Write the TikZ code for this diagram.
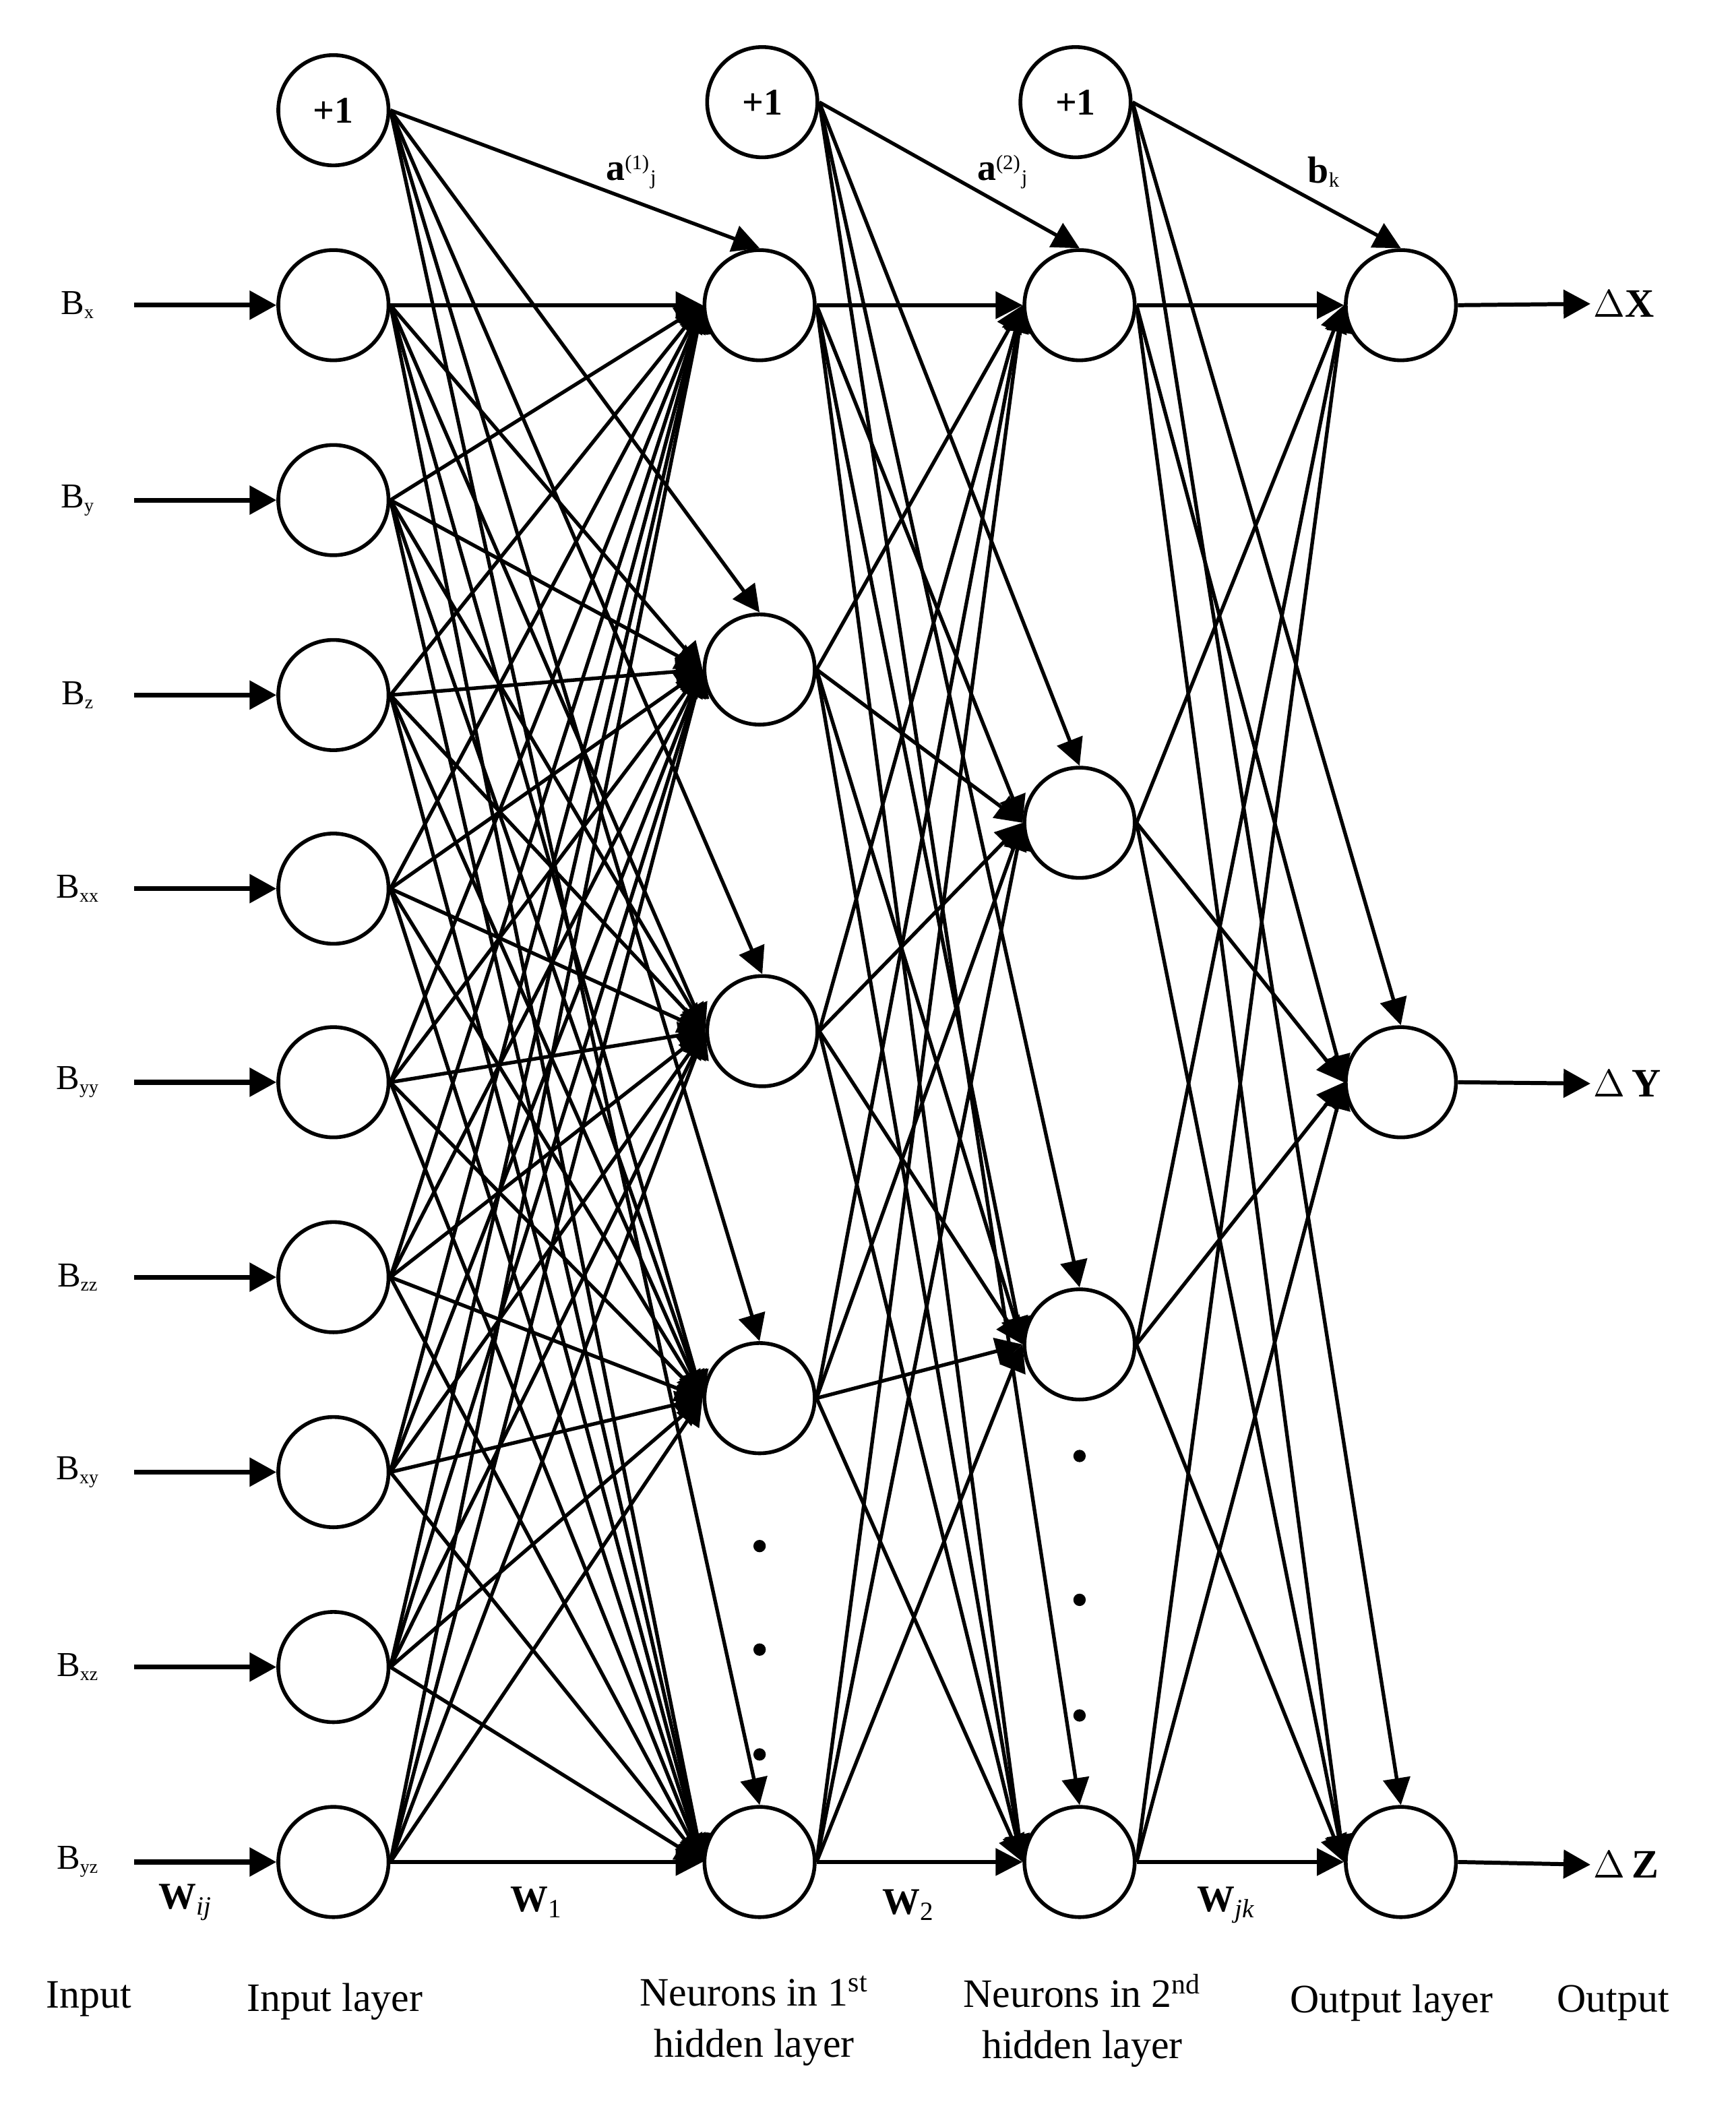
\documentclass[tikz,border=0pt]{standalone}
\usepackage{fontspec}
\setmainfont{Liberation Serif}
\usetikzlibrary{arrows.meta}
\begin{document}
\begin{tikzpicture}[x=0.5pt,y=-0.5pt,
  neuron/.style={circle,draw,line width=1.4pt,minimum size=41pt,inner sep=0pt,
    font=\fontsize{14}{16}\selectfont\bfseries},
  conn/.style={line width=1.35pt,-{Triangle[length=10pt,width=10pt]}},
  inarrow/.style={line width=1.8pt,-{Triangle[length=10pt,width=10.5pt]}},
  blabel/.style={font=\fontsize{13}{15}\selectfont,inner sep=0pt},
  wlabel/.style={font=\fontsize{14}{16}\selectfont,inner sep=0pt},
  olabel/.style={font=\fontsize{15}{17}\selectfont\bfseries,inner sep=0pt,anchor=west},
  captxt/.style={font=\fontsize{15}{19}\selectfont,inner sep=0pt,align=center},
  dotmark/.style={circle,fill,inner sep=0pt,minimum size=4.6pt}
]
\useasboundingbox (0,0) rectangle (1291,1568);

% input layer
\foreach \y [count=\i] in {227,372,517,661,805,950,1095,1240,1385}
  \node[neuron] (in\i) at (248,\y) {};
% hidden layer 1
\foreach \x/\y [count=\j] in {565/227,565/498,567/767,565/1040,565/1385}
  \node[neuron] (ha\j) at (\x,\y) {};
% hidden layer 2
\foreach \y [count=\j] in {227,612,1000,1385}
  \node[neuron] (hb\j) at (803,\y) {};
% output layer
\foreach \y [count=\j] in {227,805,1385}
  \node[neuron] (out\j) at (1042,\y) {};
% bias
\node[neuron] (ba) at (248,82) {+1};
\node[neuron] (bb) at (567,76) {+1};
\node[neuron] (bc) at (800,76) {+1};

% inputs
\foreach \y/\s [count=\i] in {227/x,372/y,517/z,661/xx,805/yy,950/zz,1095/xy,1240/xz,1385/yz}{
  \node[blabel] (lb\i) at (58,\y) {B{\fontsize{10}{10}\selectfont\textsubscript{\s}}};
  \coordinate (st\i) at (100,\y);
  \draw[inarrow] (st\i) -- (in\i.west);
}

% connections
\foreach \i in {1,...,9}
  \foreach \j in {1,...,5}
    \draw[conn] (in\i.east) -- (ha\j.west);
\foreach \j in {1,...,5}
  \draw[conn] (ba.east) -- (ha\j.north);
\foreach \i in {1,...,5}
  \foreach \j in {1,...,4}
    \draw[conn] (ha\i.east) -- (hb\j.west);
\foreach \j in {1,...,4}
  \draw[conn] (bb.east) -- (hb\j.north);
\foreach \i in {1,...,4}
  \foreach \j in {1,...,3}
    \draw[conn] (hb\i.east) -- (out\j.west);
\foreach \j in {1,...,3}
  \draw[conn] (bc.east) -- (out\j.north);

% outputs
\foreach \y/\s [count=\k] in {226/X,806/\,Y,1387/\,Z}{
  \coordinate (en\k) at (1183,\y);
  \draw[inarrow,line width=1.5pt] (out\k.east) -- (en\k);
  \node[olabel] (ol\k) at (1185,\y) {$\Delta$\s};
}

% dots
\foreach \y [count=\k] in {1150,1227,1305}
  \node[dotmark] (da\k) at (565,\y) {};
\foreach \y [count=\k] in {1083,1190,1276}
  \node[dotmark] (db\k) at (803,\y) {};

% bias labels
\node[wlabel] (la1) at (470,128) {\textbf{a}{\fontsize{11}{11}\selectfont\textsuperscript{(1)}\textsubscript{j}}};
\node[wlabel] (la2) at (746,128) {\textbf{a}{\fontsize{11}{11}\selectfont\textsuperscript{(2)}\textsubscript{j}}};
\node[wlabel] (lbk) at (985,128) {\textbf{b}{\fontsize{11}{11}\selectfont\textsubscript{k}}};

% weight labels
\node[wlabel] (w0) at (138,1415) {\textbf{W}\textsubscript{\itshape ij}};
\node[wlabel] (w1) at (399,1415) {\textbf{W}\textsubscript{1}};
\node[wlabel] (w2) at (676,1417) {\textbf{W}\textsubscript{2}};
\node[wlabel] (w3) at (912,1417) {\textbf{W}\textsubscript{\itshape jk}};

% captions
\node[captxt] (c1) at (66,1487) {Input};
\node[captxt] (c2) at (249,1489) {Input layer};
\node[captxt] (c3) at (561,1503) {Neurons in 1\textsuperscript{st}\\hidden layer};
\node[captxt] (c4) at (805,1503) {Neurons in 2\textsuperscript{nd}\\hidden layer};
\node[captxt] (c5) at (1035,1490) {Output layer};
\node[captxt] (c6) at (1200,1490) {Output};
\end{tikzpicture}
\end{document}
